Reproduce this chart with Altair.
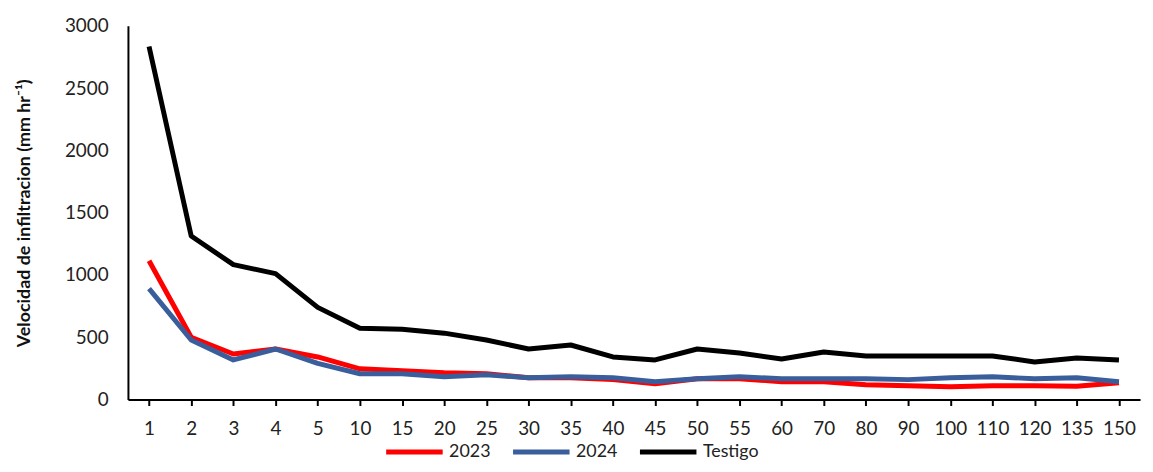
import altair as alt
import pandas as pd

categories = ["1", "2", "3", "4", "5", "10", "15", "20", "25", "30", "35", "40",
              "45", "50", "55", "60", "70", "80", "90", "100", "110", "120", "135", "150"]
v2023 = [1114, 500, 366, 406, 342, 247, 231, 215, 207, 175, 175, 160,
         127, 167, 167, 143, 143, 119, 111, 103, 111, 111, 107, 135]
v2024 = [891, 478, 318, 406, 290, 207, 207, 183, 199, 175, 183, 175,
         143, 167, 183, 167, 167, 167, 160, 175, 183, 167, 175, 143]
testigo = [2834, 1313, 1083, 1011, 740, 573, 565, 533, 478, 406, 438, 342,
           318, 406, 374, 326, 382, 350, 350, 350, 350, 302, 334, 318]
series = ["2023", "2024", "Testigo"]
colors = ["#FF0000", "#3A5E9C", "#000000"]

rows = []
for name, vals in zip(series, [v2023, v2024, testigo]):
    for i, (c, v) in enumerate(zip(categories, vals)):
        rows.append({"t": c, "v": v, "serie": name, "o": series.index(name)})
df = pd.DataFrame(rows)

FONT = "Lato"

chart = alt.Chart(df).mark_line(strokeWidth=5, strokeJoin="round").encode(
    x=alt.X("t:N", sort=categories, title=None,
            scale=alt.Scale(paddingInner=0, paddingOuter=0),
            axis=alt.Axis(labelAngle=0, labelFontSize=19, labelColor="#222",
                          labelFont=FONT, domainColor="#000", domainWidth=2,
                          tickColor="#000", tickWidth=2, tickSize=6,
                          bandPosition=0, labelPadding=14, grid=False)),
    y=alt.Y("v:Q", title="Velocidad de infiltracion (mm hr⁻¹)",
            scale=alt.Scale(domain=[0, 3000], nice=False),
            axis=alt.Axis(values=[0, 500, 1000, 1500, 2000, 2500, 3000], format="d",
                          labelFontSize=19, labelColor="#222", labelFont=FONT,
                          titleFont=FONT, titleFontSize=18, titleFontWeight="bold",
                          titleColor="#111", titlePadding=31,
                          domainColor="#000", domainWidth=2, ticks=False,
                          labelPadding=20, grid=False)),
    color=alt.Color("serie:N", scale=alt.Scale(domain=series, range=colors),
                    legend=alt.Legend(orient="none", legendX=258, legendY=399,
                                      direction="horizontal", title=None,
                                      symbolType="stroke", symbolSize=3249,
                                      symbolStrokeWidth=5, labelFontSize=18,
                                      labelFont=FONT, labelColor="#222",
                                      labelOffset=4, columnPadding=12)),
    order=alt.Order("o:Q"),
    detail="serie:N",
).properties(
    width=1021, height=377,
    autosize=alt.AutoSizeParams(type="none"),
    padding={"left": 121, "top": 16, "right": 5, "bottom": 63},
).configure_view(stroke=None)

chart.save("out.html", embed_options={"renderer": "svg", "actions": False})
